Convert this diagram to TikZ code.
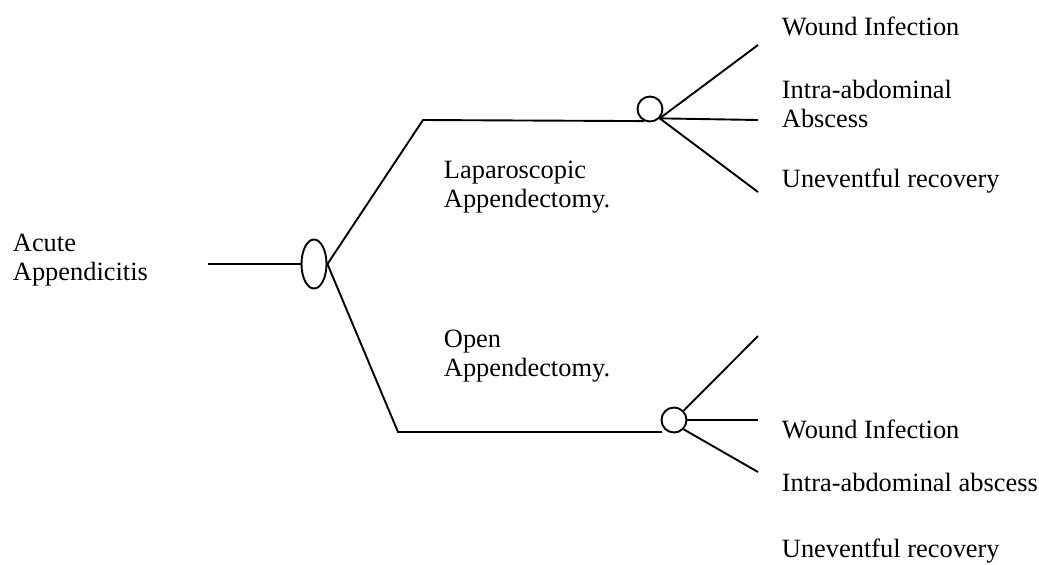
\documentclass[tikz,border=0pt]{standalone}
\usepackage{fontspec}
\setmainfont{Liberation Serif}
\usetikzlibrary{positioning,calc,shapes.geometric}

\begin{document}
\begin{tikzpicture}[x=0.5pt, y=-0.5pt, line width=0.95pt,
	lbl/.style={anchor=base west, inner sep=0pt, align=left, font=\fontsize{13.2pt}{14.5pt}\selectfont},
	chance/.style={draw, circle, minimum size=12.5pt, inner sep=0pt}]
		\useasboundingbox (0,0) rectangle (1039,564);
		
		% decision node and its stem
		\node[draw, ellipse, minimum width=12.5pt, minimum height=24.5pt, inner sep=0pt] (dec) at (314,264) {};
		\coordinate (stem) at (208,264);
		\node[lbl] (acutet) at (12,280) {Acute\\Appendicitis};
		\draw (stem)--(dec.west);
		
		% laparoscopic branch
		\coordinate (lapc) at (423,120);
		\node[chance] (lap) at (650,109) {};
		\node[lbl] (lapt) at (443,207) {Laparoscopic\\Appendectomy.};
		\draw (dec.east)--(lapc)--(lap.244);
		
		% open branch
		\coordinate (openc) at (398,432);
		\coordinate (openend) at (662,432);
		\node[chance] (open) at (674,420) {};
		\node[lbl] (opent) at (443,376) {Open\\Appendectomy.};
		\draw (dec.east)--(openc)--(openend);
		
		% outcomes after laparoscopic
		\coordinate (lap1) at (758,45);
		\coordinate (lap2) at (758,120);
		\coordinate (lap3) at (758,192);
		\draw (lap.-44)--(lap1);
		\draw (lap.-44)--(lap2);
		\draw (lap.-44)--(lap3);
		\node[lbl] (lapwound) at (781,35) {Wound Infection};
		\node[lbl] (lapabsc) at (781,127) {Intra-abdominal\\Abscess};
		\node[lbl] (laprec) at (781,187) {Uneventful recovery};
		
		% outcomes after open
		\coordinate (open1) at (758,336);
		\coordinate (open2) at (758,420);
		\coordinate (open3) at (758,472);
		\draw (open.44)--(open1);
		\draw (open.0)--(open2);
		\draw (open.-44)--(open3);
		\node[lbl] (openwound) at (781,438) {Wound Infection};
		\node[lbl] (openabsc) at (781,491) {Intra-abdominal abscess};
		\node[lbl] (openrec) at (781,557) {Uneventful recovery};
	\end{tikzpicture}
\end{document}
